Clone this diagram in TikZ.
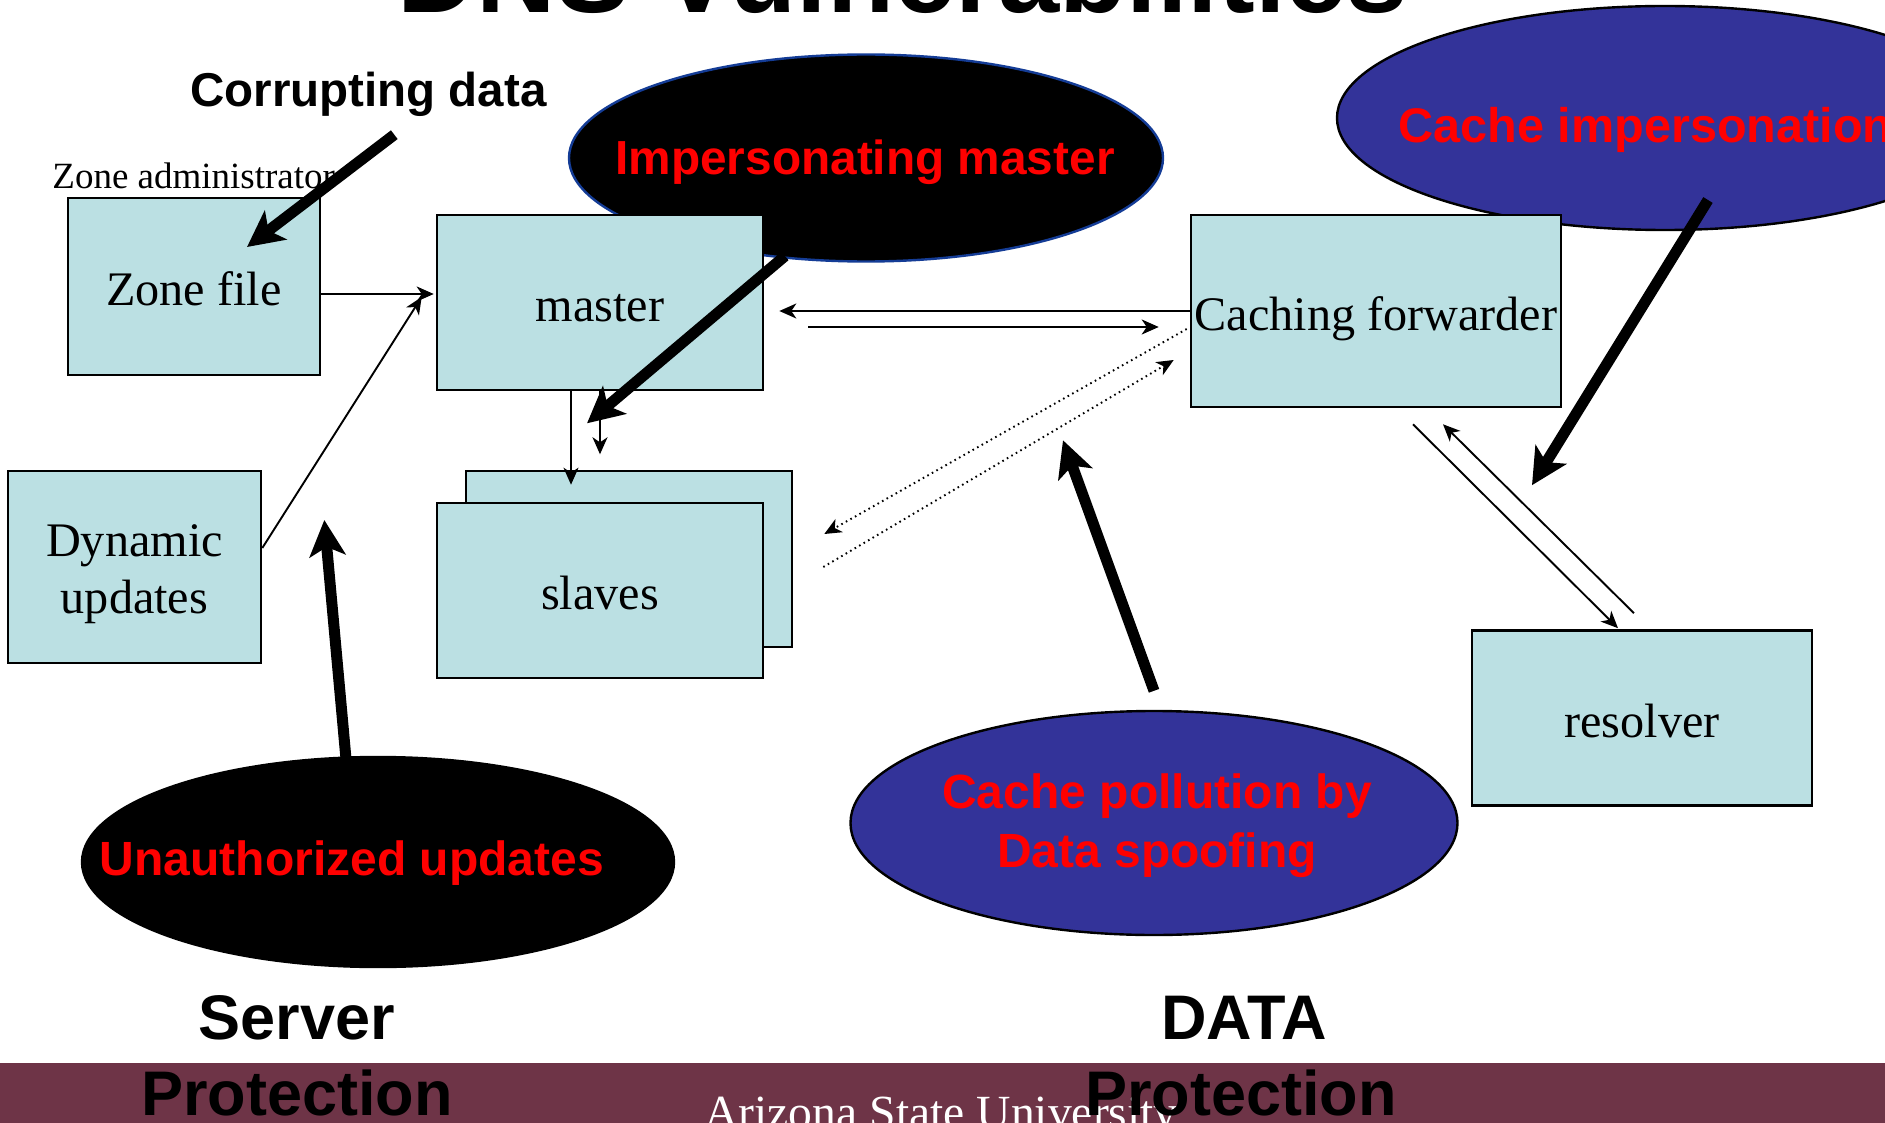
\documentclass[tikz,border=0pt]{standalone}
\usepackage{fontspec}
\setmainfont{Liberation Serif}
\newfontfamily\arialf{Liberation Sans}
\usetikzlibrary{shapes.geometric,arrows.meta,calc}
\definecolor{boxfill}{RGB}{187,224,227}
\definecolor{attackblue}{RGB}{51,51,153}
\definecolor{asumaroon}{RGB}{110,52,71}
\definecolor{rimblue}{RGB}{20,60,150}
\tikzset{
  compbox/.style={draw=black, line width=1.3pt, fill=boxfill, inner sep=0pt,
    text height=19pt, text depth=0pt, font=\fontsize{24.1}{28.5}\selectfont},
  attack/.style={shape=ellipse, inner sep=0pt, line width=1.2pt},
  attacktext/.style={text=red, inner sep=0pt},
  flow/.style={line width=0.95pt, -{Stealth[length=8.5pt,width=7.5pt,inset=2.5pt]}},
  dotflow/.style={flow, dash pattern=on 0.8pt off 1.8pt},
  threat/.style={line width=5.5pt, -{Stealth[length=18pt,width=18pt,inset=4.5pt]}},
  heading/.style={font=\arialf\bfseries\fontsize{31.5}{38}\selectfont, inner sep=0pt, anchor=base},
}
\begin{document}
\begin{tikzpicture}[x=0.5pt,y=-0.5pt]
\useasboundingbox (0,0) rectangle (1885,1123);
\clip (0,0) rectangle (1885,1123);
\fill[white] (0,0) rectangle (1885,1123);

% footer band
\fill[asumaroon] (0,1063) rectangle (1885,1123);
\node[anchor=base, text=white, inner sep=0pt, font=\fontsize{23.8}{28}\selectfont] (asu) at (941,1128) {Arizona State University};

% title
\node[anchor=base west, inner sep=0pt, font=\arialf\bfseries\fontsize{55}{62}\selectfont] (title) at (397,13) {DNS Vulnerabilities};

% attack ellipses
\node[attack, fill=black, draw=rimblue, minimum width=297pt, minimum height=103.5pt] (impm) at (866,158) {};
\node[attack, fill=attackblue, draw=black, minimum width=328pt, minimum height=112pt] (cimp) at (1665,118) {};
\node[attack, fill=attackblue, draw=black, minimum width=303.5pt, minimum height=112pt] (pol) at (1154,823) {};
\node[attack, fill=black, draw=black, minimum width=296pt, minimum height=105pt] (unauth) at (378,862) {};

\node[attacktext, anchor=base, font=\arialf\bfseries\fontsize{23.9}{28}\selectfont] (impmtext) at (865,175) {Impersonating master};
\node[attacktext, anchor=base west, font=\arialf\bfseries\fontsize{24.3}{28}\selectfont] (cimptext) at (1398,143) {Cache impersonation};
\node[attacktext, align=center, font=\arialf\bfseries\fontsize{24}{29.5}\selectfont] (poltext) at (1157,826) {Cache pollution by\\Data spoofing};
\node[attacktext, anchor=base, font=\arialf\bfseries\fontsize{24}{28}\selectfont] (unauthtext) at (352,875) {Unauthorized updates};

% DNS components
\node[compbox, minimum width=126pt, minimum height=88.5pt] (zone) at (194,286.5) {Zone file};
\node[compbox, minimum width=163pt, minimum height=87.5pt] (master) at (600,302.5) {master};
\node[compbox, minimum width=163pt, minimum height=88pt] (slavesback) at (629,559) {};
\node[compbox, minimum width=163pt, minimum height=87.5pt] (slaves) at (600,590.5) {slaves};
\node[compbox, minimum width=126.5pt, minimum height=96pt,
  label={[align=center, inner sep=0pt, font=\fontsize{24.1}{28.5}\selectfont, yshift=-3.6pt]center:Dynamic\\updates}] (dyn) at (134.5,567) {};
\node[compbox, minimum width=185pt, minimum height=96pt] (cache) at (1376,311) {Caching forwarder};
\node[compbox, minimum width=170pt, minimum height=87.5pt] (resolver) at (1642,718) {resolver};

% labels
\node[anchor=base west, inner sep=0pt, font=\fontsize{18.5}{22}\selectfont] (admin) at (52,189) {Zone administrator};
\node[anchor=base west, inner sep=0pt, font=\arialf\bfseries\fontsize{23.75}{28}\selectfont] (corrupt) at (190,107) {Corrupting data};

% data flows
\draw[flow] ($(zone.east)+(0,7.5)$) -- ($(master.west)+(-2,-8.5)$);
\draw[flow] ($(dyn.east)+(0,-19)$) -- ($(master.west)+(-14,-5.5)$);
\draw[flow] ($(master.south)+(-29,0)$) -- ($(slavesback.north)+(-58,15)$);
\draw[flow] (master.south) -- ($(master.south)+(0,63)$);
\draw[flow] (cache.west) -- ($(master.east)+(15,8.5)$);
\draw[flow] ($(master.east)+(44,24.5)$) -- ($(cache.west)+(-31,16)$);
\draw[dotflow] ($(cache.west)+(-3,18)$) -- ($(slavesback.east)+(31,-25)$);
\draw[dotflow] ($(slavesback.east)+(30,8)$) -- ($(cache.west)+(-16,49)$);
\draw[flow] ($(cache.south)+(37,16)$) -- ($(resolver.north)+(-24,-1)$);
\draw[flow] ($(resolver.north)+(-8,-16)$) -- ($(cache.south)+(67,16)$);

% attack arrows
\draw[threat] ($(zone.north east)+(73,-62)$) -- ($(zone.center)+(53,-39.5)$);
\draw[threat] ($(impm.center)+(-81,98)$) -- ($(master.south)+(-13,32)$);
\draw[threat] ($(cimp.center)+(43,82)$) -- ($(resolver.north)+(-110,-144)$);
\draw[threat] ($(pol.north)+(0,-19)$) -- ($(cache.south)+(-313,32)$);
\draw[threat] ($(unauth.north)+(-32,3)$) -- ($(dyn.east)+(62,-47)$);

% protection headings
\node[heading] (server) at (297,1039) {Server};
\node[heading] (srvprot) at (297,1115) {Protection};
\node[heading] (data) at (1244,1039) {DATA};
\node[heading] (dataprot) at (1241,1115) {Protection};
\end{tikzpicture}
\end{document}
